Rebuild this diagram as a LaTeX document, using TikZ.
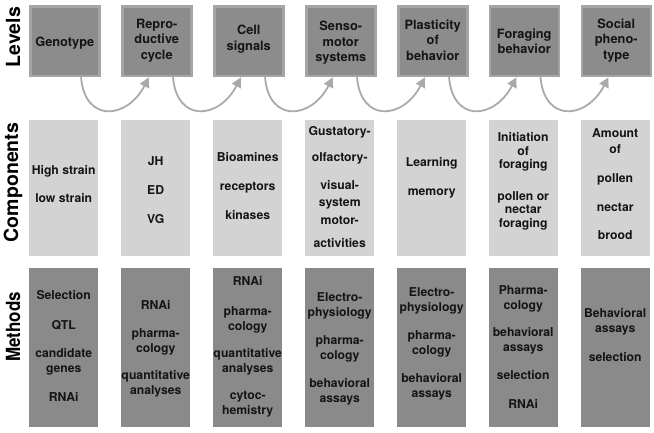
\documentclass[tikz,border=0pt]{standalone}
\usepackage{fontspec}
\setmainfont{TeX Gyre Heros}
\usetikzlibrary{arrows.meta,calc}
\definecolor{lvfill}{RGB}{140,140,140}
\definecolor{lvdraw}{RGB}{165,165,165}
\definecolor{cpfill}{RGB}{211,211,211}
\definecolor{mtfill}{RGB}{138,138,138}
\definecolor{arcol}{RGB}{170,170,170}
\definecolor{txcol}{RGB}{20,20,20}
\tikzset{
  lvbox/.style={draw=lvdraw,fill=lvfill,line width=2.5pt,minimum width=69pt,minimum height=69.5pt,inner sep=0pt,anchor=north west},
  cpbox/.style={fill=cpfill,minimum width=69pt,minimum height=136pt,inner sep=0pt,anchor=north west},
  mtbox/.style={fill=mtfill,minimum width=69pt,minimum height=159pt,inner sep=0pt,anchor=north west},
  lvtxt/.style={align=center,inner sep=0pt,text=txcol,font=\bfseries\fontsize{12.8}{15.5}\selectfont},
  bxtxt/.style={align=center,inner sep=0pt,text=txcol,font=\bfseries\fontsize{12.2}{15}\selectfont},
  rowlab/.style={rotate=90,inner sep=0pt,text=black,font=\bfseries\fontsize{19.5}{20}\selectfont},
  flow/.style={draw=arcol,line width=1.8pt,-{Triangle[length=10pt,width=10pt]}},
}
\begin{document}
\begin{tikzpicture}[x=1pt,y=-1pt]
\useasboundingbox (0,0) rectangle (654,433);
% row labels
\node[rowlab] (labL) at (13,37) {Levels};
\node[rowlab] (labC) at (13,182.5) {Components};
\node[rowlab] (labM) at (13,327) {\scalebox{0.87}[1]{Methods}};
% boxes
\foreach \i/\x in {1/29,2/121,3/213,4/305,5/397,6/488.5,7/580.5}{
  \node[lvbox] (L\i) at (\x,5.25) {};
  \node[cpbox] (C\i) at (\x,120) {};
  \node[mtbox] (M\i) at (\x,268) {};
}
% level texts
\node[lvtxt] (L1t) at ($(L1.center)+(0,2)$) {Genotype};
\node[lvtxt] (L2t) at ($(L2.center)+(0,-1)$) {Repro-\\ductive\\cycle};
\node[lvtxt] (L3t) at ($(L3.center)+(0,-2)$) {Cell\\signals};
\node[lvtxt] (L4t) at ($(L4.center)+(0,1.5)$) {Senso-\\motor\\systems};
\node[lvtxt] (L5t) at ($(L5.center)+(0,-1)$) {Plasticity\\of\\behavior};
\node[lvtxt] (L6t) at ($(L6.center)+(0,0)$) {Foraging\\behavior};
\node[lvtxt] (L7t) at ($(L7.center)+(0,-1)$) {Social\\pheno-\\type};
% component texts
\node[bxtxt] (C1t) at ($(C1.center)+(0,-4)$) {High strain\\[13pt]low strain};
\node[bxtxt] (C2t) at ($(C2.center)+(0,2)$) {JH\\[14pt]ED\\[14pt]VG};
\node[bxtxt] (C3t) at ($(C3.center)+(0,-2)$) {Bioamines\\[14pt]receptors\\[14pt]kinases};
\node[bxtxt] (C4t) at ($(C4.center)+(0,-1)$) {Gustatory-\\[11pt]olfactory-\\[13pt]visual-\\[2pt]system\\[3pt]motor-\\[8pt]activities};
\node[bxtxt] (C5t) at ($(C5.center)+(0,-10)$) {Learning\\[14pt]memory};
\node[bxtxt,font=\bfseries\fontsize{12.2}{13.5}\selectfont] (C6t) at ($(C6.center)+(0,-7)$) {Initiation\\of\\foraging\\[18pt]pollen or\\nectar\\foraging};
\node[bxtxt] (C7t) at ($(C7.center)+(0,-4)$) {Amount\\[1pt]of\\[14pt]pollen\\[14pt]nectar\\[13pt]brood};
% method texts
\node[bxtxt] (M1t) at ($(M1.center)+(0,-1.5)$) {Selection\\[15pt]QTL\\[13pt]candidate\\genes\\[14pt]RNAi};
\node[bxtxt] (M2t) at ($(M2.center)+(0,1)$) {RNAi\\[13pt]pharma-\\cology\\[12pt]quantitative\\analyses};
\node[bxtxt] (M3t) at ($(M3.center)+(0,-1)$) {RNAi\\[15pt]pharma-\\cology\\[12pt]quantitative\\analyses\\[12pt]cytoc-\\hemistry};
\node[bxtxt] (M4t) at ($(M4.center)+(0,1)$) {Electro-\\physiology\\[13pt]pharma-\\cology\\[13pt]behavioral\\assays};
\node[bxtxt] (M5t) at ($(M5.center)+(0,-3.5)$) {Electro-\\physiology\\[13pt]pharma-\\cology\\[13pt]behavioral\\assays};
\node[bxtxt] (M6t) at ($(M6.center)+(0,-0.5)$) {Pharma-\\cology\\[12pt]behavioral\\assays\\[13pt]selection\\[14pt]RNAi};
\node[bxtxt] (M7t) at ($(M7.center)+(0,-12.5)$) {Behavioral\\assays\\[14pt]selection};
% arrows
\foreach \i/\j in {1/2,2/3,3/4,4/5,5/6,6/7}{
  \draw[flow] ($(L\i.south west)+(52,0)$) .. controls ($(L\i.south west)+(56,46)$) and ($(L\j.south west)+(6,42)$) .. ($(L\j.south west)+(28,0)$);
}
\end{tikzpicture}
\end{document}
